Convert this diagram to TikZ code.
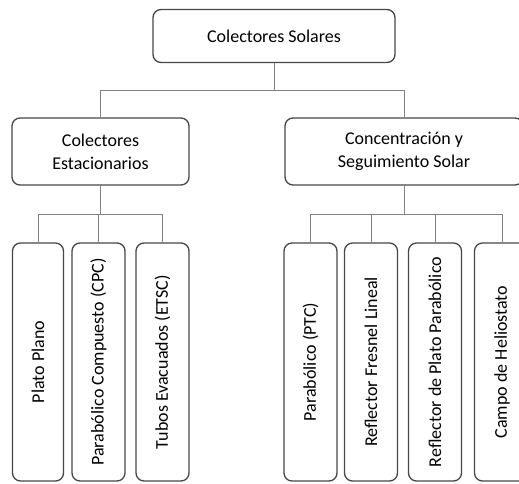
\documentclass[tikz,border=0pt]{standalone}
\usepackage{fontspec}
\setmainfont{Carlito}
\definecolor{boxgray}{RGB}{70,70,70}
\definecolor{linkgray}{RGB}{130,130,130}
\begin{document}
\begin{tikzpicture}[x=1pt, y=-1pt,
  caja/.style={draw=boxgray, line width=1.3pt, rounded corners=8pt, inner sep=0pt,
    align=center, font=\fontsize{18}{23}\selectfont},
  hoja/.style={caja, minimum width=53pt, minimum height=238pt},
  enlace/.style={draw=linkgray, line width=0.9pt}]
\useasboundingbox (0,0) rectangle (519,483);
\clip (0,0) rectangle (519,483);

\node [caja, minimum width=242pt, minimum height=53pt] (sol) at (274,36) {Colectores Solares};
\node [caja, minimum width=177pt, minimum height=67pt] (est) at (100.5,151.5) {Colectores\\Estacionarios};
\node [caja, minimum width=238pt, minimum height=67pt] (con) at (404,151.5) {Concentración y\\Seguimiento Solar};

\node [hoja, minimum width=51pt] (pp) at (38,362) {\rotatebox{90}{Plato Plano}};
\node [hoja] (cpc) at (98.5,362) {\rotatebox{90}{Parabólico Compuesto (CPC)}};
\node [hoja] (etsc) at (162.5,362) {\rotatebox{90}{Tubos Evacuados (ETSC)}};
\node [hoja] (ptc) at (310.5,362) {\rotatebox{90}{Parabólico (PTC)}};
\node [hoja] (lfr) at (371,362) {\rotatebox{90}{Reflector Fresnel Lineal}};
\node [hoja] (pdr) at (435,362) {\rotatebox{90}{Reflector de Plato Parabólico}};
\node [hoja, minimum width=55pt] (hel) at (502,362) {\rotatebox{90}{Campo de Heliostato}};

\draw [enlace] (sol.south)--(274,90) -| (est.north);
\draw [enlace] (274,90) -| (con.north);
\draw [enlace] (est.south)--(100.5,214) -| (pp.north);
\draw [enlace] (100.5,214) -| (cpc.north);
\draw [enlace] (100.5,214) -| (etsc.north);
\draw [enlace] (con.south)--(404,214) -| (ptc.north);
\draw [enlace] (404,214) -| (lfr.north);
\draw [enlace] (404,214) -| (pdr.north);
\draw [enlace] (404,214) -| (hel.north);
\end{tikzpicture}
\end{document}
